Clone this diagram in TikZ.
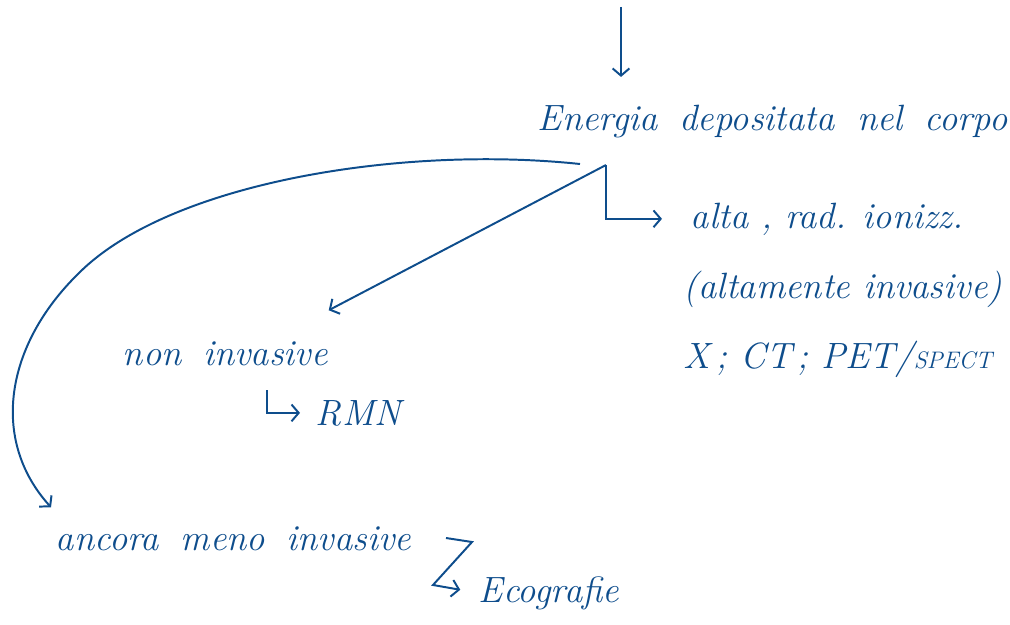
\documentclass[tikz,border=0pt]{standalone}
\usetikzlibrary{arrows.meta,calc,positioning}
\definecolor{handblue}{HTML}{0E4D8C}
\newcommand\widespaces{\spaceskip=0.6em\relax}

\begin{document}
\begin{tikzpicture}[x=0.025cm,y=-0.025cm,>={Straight Barb[length=1.8mm,width=4.2mm]},
  line width=1.4pt,draw=handblue,
  note/.style={anchor=base west,inner sep=0pt,text=handblue,font=\fontsize{26}{30}\selectfont\itshape},
  spread/.style={note,execute at begin node=\widespaces}]
  \useasboundingbox (0,0) rectangle (1010,624);
  % Texts
  \node[spread] (energia) at (537,130) {Energia depositata nel corpo};
  \node[note] (alta) at (690,228) {alta , rad. ionizz.};
  \node[note] (altam) at (683,298) {(altamente invasive)};
  \node[note] (esami) at (683,368) {X\,;\ CT\,;\ PET/{\fontsize{17}{20}\selectfont SPECT}};
  \node[spread] (noninv) at (122,365) {non invasive};
  \node[note] (rmn) at (315,425) {RMN};
  \node[spread] (ancora) at (55,550) {ancora meno invasive};
  \node[note] (eco) at (478,602) {Ecografie};
  % Incoming arrow
  \coordinate (src) at (621,7);
  \draw[->,shorten >=19pt] (src) -- (src |- energia.north);
  % Branches from the fork below the text
  \coordinate (fork) at ($(energia.base west)+(69,35)$);
  \draw[->,shorten >=7mm] (fork) -- (fork |- alta.west) -- (alta.west);
  \draw[->] (fork) -- ([yshift=7.5mm]noninv.north east);
  \draw[->] ($(fork)+(-26,-1)$) .. controls (400,145) and (169,183) .. (79,273)
    .. controls (5,345) and (-10,440) .. ([yshift=4.5mm,xshift=-1mm]ancora.north west);
  % Hooks
  \coordinate (rmnhook) at (267,390);
  \draw[->,shorten >=3.75mm] (rmnhook) -- (rmnhook |- rmn.west) -- (rmn.west);
  \coordinate (ecohook) at (446,538);
  \draw[->,shorten >=4.5mm] (ecohook) -- (472,542) -- (433,585) -- (eco.west);
\end{tikzpicture}
\end{document}
